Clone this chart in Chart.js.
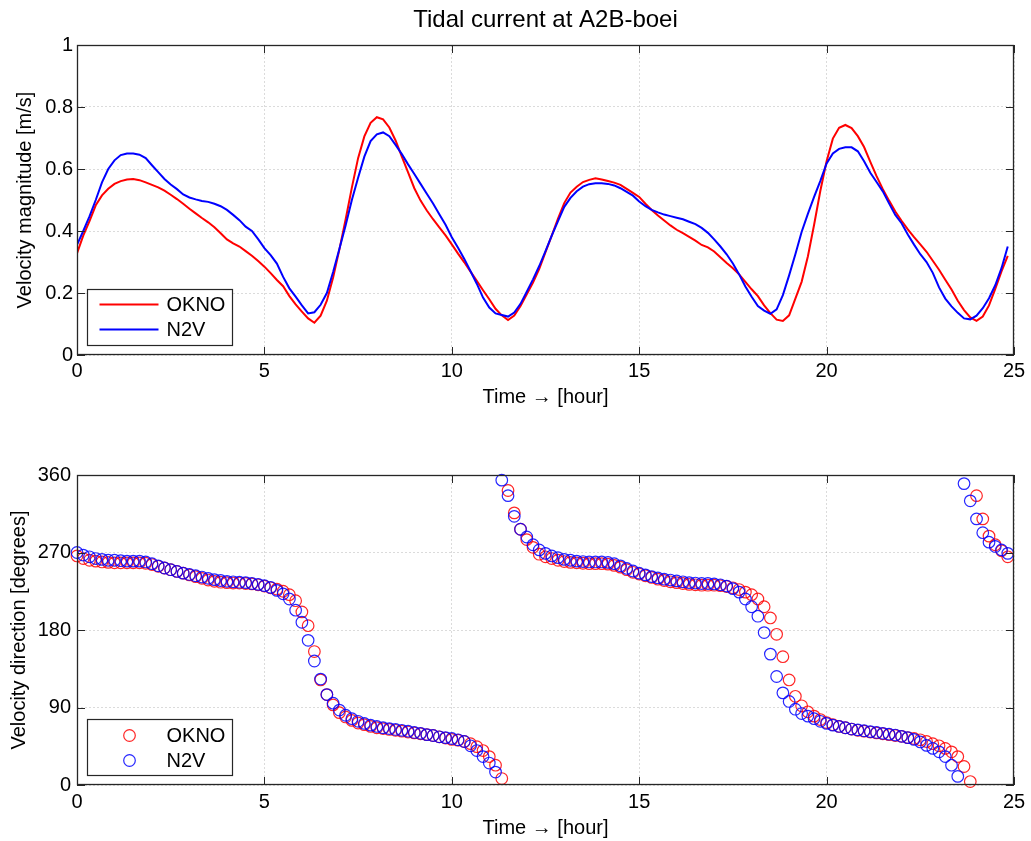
<!DOCTYPE html>
<html>
<head>
<meta charset="utf-8">
<script src="https://cdn.jsdelivr.net/npm/chart.js@4.4.1/dist/chart.umd.min.js"></script>
<style>
html,body{margin:0;padding:0;background:#fff;}
#wrap{position:relative;width:1031px;height:841px;overflow:hidden;background:#fff;}
canvas{position:absolute;left:0;}
#c1{top:0;}
#c2{top:420px;}
</style>
</head>
<body>
<div id="wrap">
<canvas id="c1" width="1031" height="420"></canvas>
<canvas id="c2" width="1031" height="421"></canvas>
</div>
<script>
// ---- data ----
const timeMinutes = [
  0,10,20,30,40,50,60,70,80,90,
  100,110,120,130,140,150,160,170,180,190,
  200,210,220,230,240,250,260,270,280,290,
  300,310,320,330,340,350,360,370,380,390,
  400,410,420,430,440,450,460,470,480,490,
  500,510,520,530,540,550,560,570,580,590,
  600,610,620,630,640,650,660,670,680,690,
  700,710,720,730,740,750,760,770,780,790,
  800,810,820,830,840,850,860,870,880,890,
  900,910,920,930,940,950,960,970,980,990,
  1000,1010,1020,1030,1040,1050,1060,1070,1080,1090,
  1100,1110,1120,1130,1140,1150,1160,1170,1180,1190,
  1200,1210,1220,1230,1240,1250,1260,1270,1280,1290,
  1300,1310,1320,1330,1340,1350,1360,1370,1380,1390,
  1400,1410,1420,1430,1440,1450,1460,1470,1480,1490
];
const seriesNames = ['OKNO', 'N2V'];
const okMag = [
  0.328,0.385,0.432,0.483,0.515,0.536,0.552,0.561,0.566,0.568,
  0.564,0.557,0.549,0.541,0.530,0.517,0.503,0.488,0.472,0.457,
  0.442,0.428,0.412,0.393,0.373,0.360,0.350,0.335,0.320,0.303,
  0.285,0.264,0.242,0.222,0.190,0.163,0.140,0.118,0.104,0.127,
  0.175,0.250,0.340,0.437,0.540,0.635,0.705,0.749,0.767,0.760,
  0.734,0.692,0.640,0.589,0.538,0.498,0.466,0.438,0.412,0.386,
  0.357,0.327,0.299,0.269,0.239,0.209,0.180,0.149,0.128,0.113,
  0.127,0.158,0.196,0.234,0.278,0.332,0.385,0.440,0.490,0.524,
  0.543,0.558,0.565,0.570,0.566,0.561,0.556,0.549,0.536,0.523,
  0.510,0.488,0.468,0.450,0.434,0.418,0.404,0.393,0.381,0.369,
  0.355,0.347,0.334,0.315,0.297,0.280,0.260,0.236,0.212,0.190,
  0.160,0.135,0.114,0.110,0.128,0.182,0.236,0.318,0.420,0.530,
  0.625,0.698,0.733,0.742,0.732,0.706,0.671,0.623,0.577,0.535,
  0.498,0.463,0.433,0.405,0.380,0.357,0.333,0.304,0.275,0.243,
  0.211,0.175,0.145,0.121,0.110,0.124,0.160,0.213,0.270,0.320
];
const nvMag = [
  0.355,0.400,0.447,0.500,0.557,0.600,0.628,0.645,0.650,0.650,
  0.646,0.635,0.612,0.590,0.568,0.550,0.535,0.518,0.508,0.502,
  0.497,0.494,0.488,0.480,0.468,0.452,0.435,0.414,0.400,0.374,
  0.345,0.322,0.295,0.252,0.215,0.188,0.160,0.134,0.138,0.162,
  0.200,0.268,0.342,0.418,0.500,0.572,0.640,0.690,0.712,0.718,
  0.706,0.678,0.648,0.615,0.584,0.552,0.520,0.489,0.454,0.420,
  0.380,0.346,0.310,0.270,0.230,0.185,0.153,0.134,0.129,0.124,
  0.137,0.165,0.204,0.244,0.287,0.335,0.385,0.432,0.478,0.507,
  0.528,0.543,0.551,0.554,0.554,0.552,0.547,0.538,0.526,0.514,
  0.495,0.480,0.468,0.460,0.453,0.448,0.443,0.438,0.430,0.422,
  0.410,0.394,0.373,0.350,0.325,0.295,0.260,0.221,0.188,0.158,
  0.143,0.133,0.147,0.193,0.257,0.325,0.397,0.455,0.510,0.562,
  0.618,0.650,0.665,0.670,0.670,0.657,0.625,0.588,0.558,0.528,
  0.489,0.452,0.425,0.389,0.356,0.325,0.300,0.265,0.218,0.182,
  0.157,0.136,0.118,0.115,0.127,0.151,0.183,0.225,0.280,0.350
];
const okDir = [
  266,263,261,260,259,258.5,258,258,258,258,
  258,257.5,256,254,252,250,248,246,244,242,
  240,238,236.5,235.5,235,234.5,234.5,234,233.5,232.5,
  231,229,227.5,225,221,214,201,185,155,122,
  105,93,84,79,75,72,70,68,66.5,65.5,
  64.5,63.5,62.5,61.5,60.5,59.5,58.5,57.5,56,54.5,
  53,52,50.5,48,44.5,40,33,23,7.5,342,
  316,297,285,276,268,265,263,261,259.5,258.5,
  258,257.5,257,257,257,256.5,255,253,250,247,
  245,243,241,239,237.5,236,235,234,233,232.5,
  232,232,232,231.5,230.5,229,227,224,221,216,
  207,194,175,149,122,103,92,85,80,76,
  72.5,70,68,66.5,65,63.5,62.5,61.5,60.5,59.5,
  58.5,57.5,56.5,55,54,52.5,50.5,48,45.5,42.5,
  38.5,33,21.5,4,336,309,289,279,272,265
];
const nvDir = [
  270,267,265,263,262,261,261,260.5,260,260,
  260,259,257,254.5,252,250,248,246,244.5,243,
  241.5,240,238.5,237.5,236.5,236,235.5,235,234,233,
  231.5,229.5,226,222,216,203,189,168,144,123,
  105,95,87,81,77,74,71.5,69.5,68,66.5,
  65.5,64.5,63.5,62.5,61,60,58.5,57.5,56,55,
  54,52.5,50.5,45.5,40,33,25.5,15,354,336,
  312,297,288,279,273,269,266,264,262,261,
  260,259.5,259,259,259,258.5,257,254.5,251.5,248.5,
  246,244,242,240.5,239,238,237,236,235,234.5,
  234,234,233.5,232.5,231,228,224,216,207,196,
  177,152,126,107,97,88,83,80,77,74,
  71.5,69.5,68,66.5,65,64,63,62,61,60,
  59,58,56.5,55,53,50,46,42.5,38.5,33,
  23,10,350,330,309,293,282,277,273,269
];
const hourTicks = [0, 5, 10, 15, 20, 25];
const magTicks = [0, 0.2, 0.4, 0.6, 0.8, 1];
const dirTicks = [0, 90, 180, 270, 360];

// ---- styling ----
const FONT = '"Liberation Sans", Arial, Helvetica, sans-serif';
Chart.defaults.font.family = FONT;
Chart.defaults.font.size = 20;
Chart.defaults.color = '#000';
const RED = '#ff0000', BLUE = '#0000ff';
const GRID = 'rgba(0,0,0,0.14)';

function pts(vals) { return vals.map((v, i) => ({ x: timeMinutes[i] / 60, y: v })); }

const frame = {
  id: 'frame',
  afterDatasetsDraw(chart) {
    const { ctx, chartArea: a, scales } = chart;
    const x = scales.x, y = scales.y, L = 8;
    ctx.save();
    ctx.strokeStyle = '#262626';
    ctx.lineWidth = 1;
    ctx.beginPath();
    x.ticks.forEach(t => {
      const px = Math.round(x.getPixelForValue(t.value)) + 0.5;
      ctx.moveTo(px, a.bottom); ctx.lineTo(px, a.bottom - L);
      ctx.moveTo(px, a.top); ctx.lineTo(px, a.top + L);
    });
    y.ticks.forEach(t => {
      const py = Math.round(y.getPixelForValue(t.value)) + 0.5;
      ctx.moveTo(a.left, py); ctx.lineTo(a.left + L, py);
      ctx.moveTo(a.right, py); ctx.lineTo(a.right - L, py);
    });
    ctx.stroke();
    ctx.lineWidth = 1.3;
    ctx.strokeRect(Math.round(a.left) + 0.5, Math.round(a.top) + 0.5,
                   Math.round(a.right - a.left) - 1, Math.round(a.bottom - a.top) - 1);
    ctx.restore();
  }
};

const boxLegend = {
  id: 'boxLegend',
  afterDraw(chart, args, o) {
    const { ctx, chartArea: a } = chart;
    const bx = Math.round(a.left + o.dx) + 0.5;
    const by = Math.round(a.bottom - o.dy - o.h) + 0.5;
    ctx.save();
    ctx.fillStyle = '#fff';
    ctx.fillRect(bx, by, o.w, o.h);
    ctx.strokeStyle = '#262626';
    ctx.lineWidth = 1.2;
    ctx.strokeRect(bx, by, o.w, o.h);
    chart.data.datasets.forEach((ds, i) => {
      const cy = by + o.row0 + i * o.rowGap;
      ctx.strokeStyle = ds.borderColor;
      ctx.lineWidth = ds.borderWidth;
      ctx.beginPath();
      if (o.marker === 'line') {
        ctx.moveTo(bx + o.s0, cy); ctx.lineTo(bx + o.s1, cy);
      } else {
        ctx.arc(bx + o.cx, cy, ds.pointRadius, 0, Math.PI * 2);
      }
      ctx.stroke();
      ctx.fillStyle = '#000';
      ctx.font = '20px ' + FONT;
      ctx.textBaseline = 'middle';
      ctx.textAlign = 'left';
      ctx.fillText(ds.label, bx + o.tx, cy + 1);
    });
    ctx.restore();
  }
};

function xScale(height, tickPad, titlePadBottom) {
  return {
    type: 'linear', position: 'bottom', min: 0, max: 25,
    afterBuildTicks: s => { s.ticks = hourTicks.map(v => ({ value: v })); },
    afterFit: s => { s.height = height; },
    ticks: { padding: tickPad, maxRotation: 0, autoSkip: false, color: '#000',
             font: { size: 20 }, callback: v => String(v) },
    grid: { color: GRID, lineWidth: 1, drawTicks: false },
    border: { display: false, dash: [2, 2] },
    title: { display: true, text: 'Time \u2192 [hour]', color: '#000',
             font: { size: 20 }, padding: { top: 0, bottom: titlePadBottom } }
  };
}
function yScale(min, max, ticksArr, label, tickPad, titlePadTop) {
  return {
    type: 'linear', position: 'left', min: min, max: max,
    afterBuildTicks: s => { s.ticks = ticksArr.map(v => ({ value: v })); },
    afterFit: s => { s.width = 77; },
    ticks: { padding: tickPad, color: '#000', font: { size: 20 }, callback: v => String(v) },
    grid: { color: GRID, lineWidth: 1, drawTicks: false },
    border: { display: false, dash: [2, 2] },
    title: { display: true, text: label, color: '#000',
             font: { size: 20 }, padding: { top: titlePadTop, bottom: 0 } }
  };
}

// ---- top chart: velocity magnitude ----
new Chart(document.getElementById('c1'), {
  type: 'line',
  data: {
    datasets: [
      { label: seriesNames[0], data: pts(okMag), borderColor: RED, borderWidth: 2,
        pointRadius: 0, tension: 0, fill: false, order: 1 },
      { label: seriesNames[1], data: pts(nvMag), borderColor: BLUE, borderWidth: 2,
        pointRadius: 0, tension: 0, fill: false, order: 0 }
    ]
  },
  options: {
    responsive: false, animation: false, events: [],
    layout: { padding: { left: 0, right: 17, top: 0, bottom: 0 } },
    scales: {
      x: xScale(65, 4, 11),
      y: yScale(0, 1, magTicks, 'Velocity magnitude [m/s]', 4, 13)
    },
    plugins: {
      legend: { display: false },
      tooltip: { enabled: false },
      title: { display: true, text: 'Tidal current at A2B-boei', fullSize: false, color: '#000',
               font: { size: 24, weight: 'normal' }, padding: { top: 6, bottom: 10.2 } },
      boxLegend: { marker: 'line', dx: 10, dy: 10, w: 145, h: 56, row0: 15, rowGap: 25,
                   s0: 12, s1: 71, tx: 79 }
    }
  },
  plugins: [frame, boxLegend]
});

// ---- bottom chart: velocity direction ----
new Chart(document.getElementById('c2'), {
  type: 'scatter',
  data: {
    datasets: [
      { label: seriesNames[0], data: pts(okDir), borderColor: 'rgba(255,0,0,0.85)',
        backgroundColor: 'rgba(0,0,0,0)', borderWidth: 1.2, pointRadius: 5.8,
        pointHoverRadius: 5.8, clip: false, order: 1 },
      { label: seriesNames[1], data: pts(nvDir), borderColor: 'rgba(0,0,255,0.85)',
        backgroundColor: 'rgba(0,0,0,0)', borderWidth: 1.2, pointRadius: 5.8,
        pointHoverRadius: 5.8, clip: false, order: 0 }
    ]
  },
  options: {
    responsive: false, animation: false, events: [],
    layout: { padding: { left: 0, right: 17, top: 55, bottom: 0 } },
    scales: {
      x: xScale(56, 5, 1),
      y: yScale(0, 360, dirTicks, 'Velocity direction [degrees]', 6, 7)
    },
    plugins: {
      legend: { display: false },
      tooltip: { enabled: false },
      boxLegend: { marker: 'circle', dx: 10, dy: 10, w: 145, h: 56, row0: 16, rowGap: 25,
                   cx: 42, tx: 79 }
    }
  },
  plugins: [frame, boxLegend]
});
</script>
</body>
</html>
